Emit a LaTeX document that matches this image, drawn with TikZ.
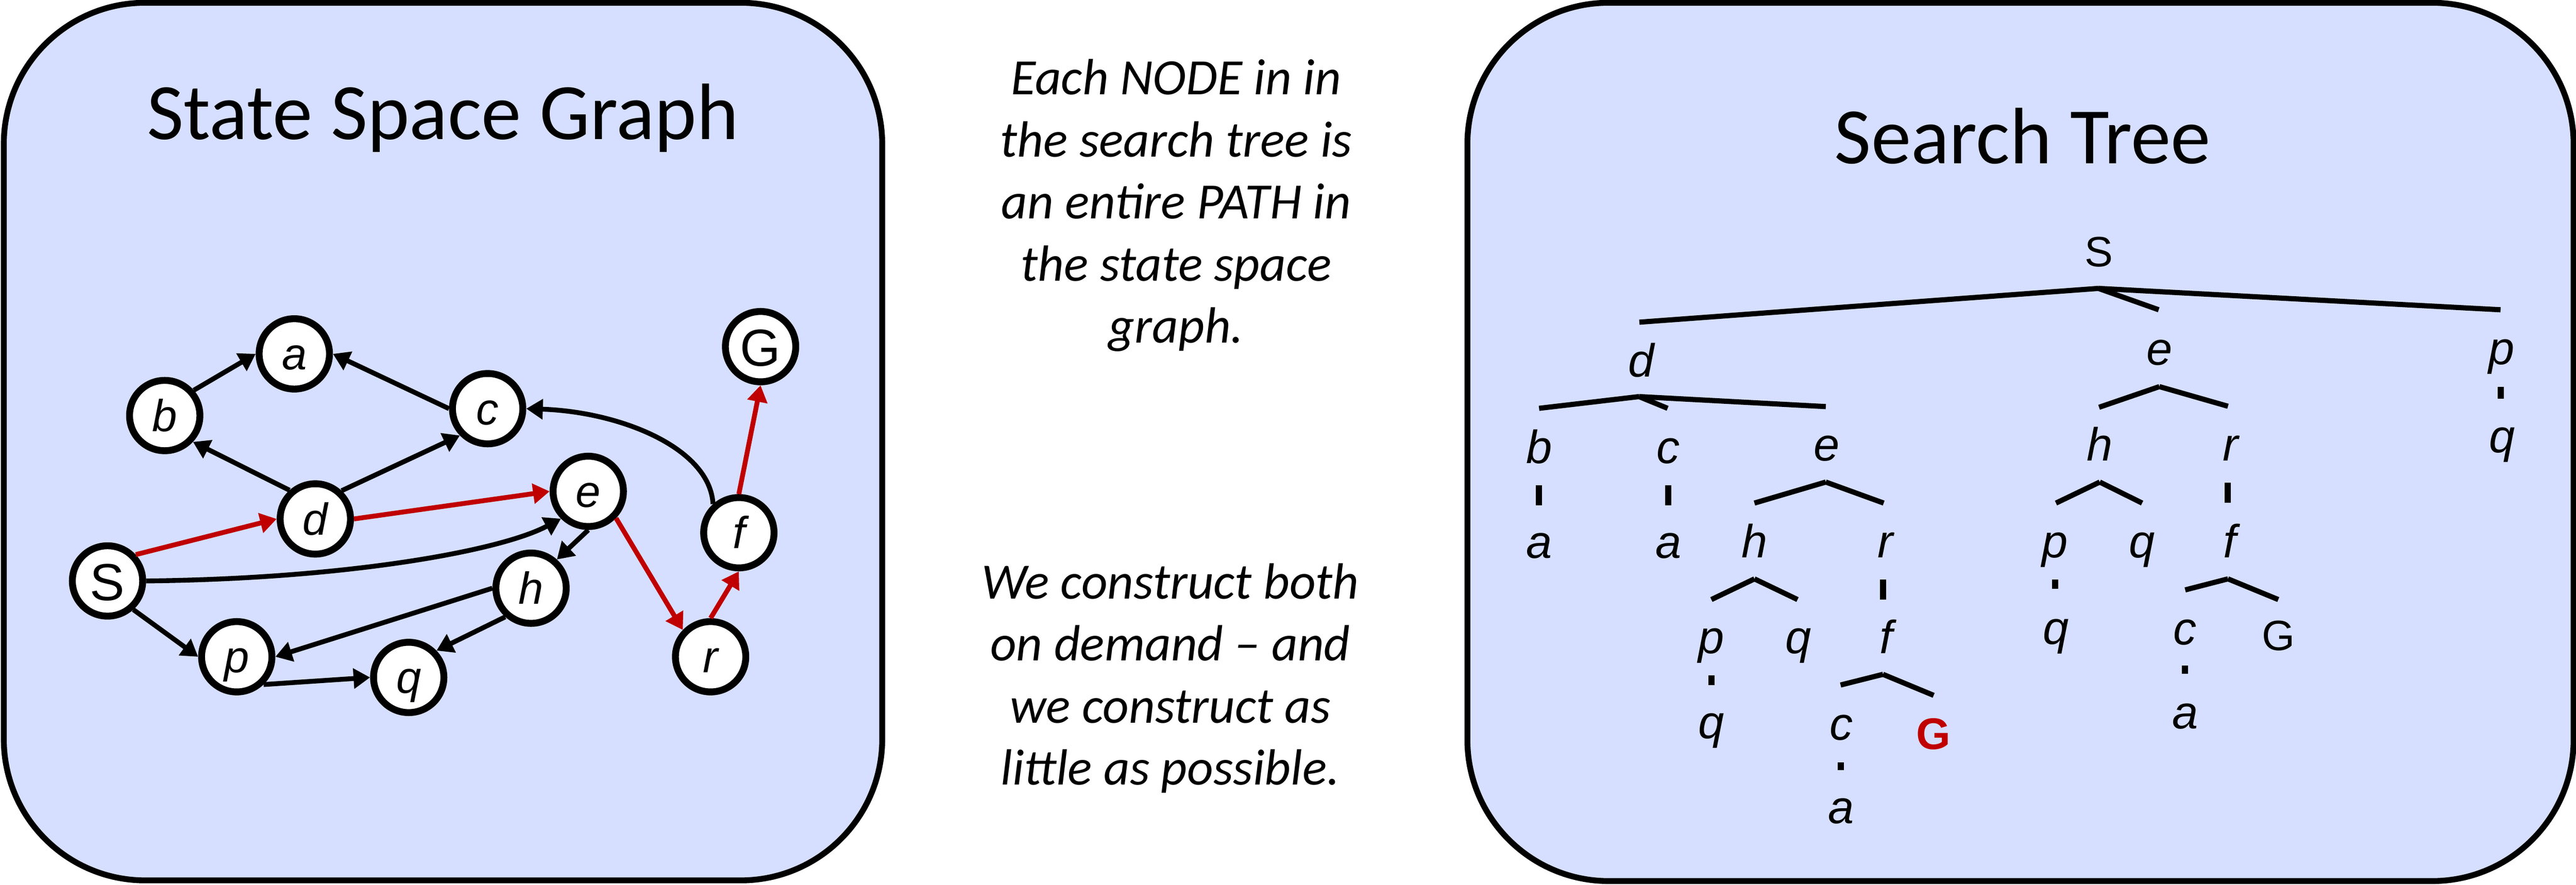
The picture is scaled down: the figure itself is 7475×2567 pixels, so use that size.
\documentclass[tikz,border=0pt]{standalone}
\usepackage{fontspec}
\setmainfont{Carlito}
\newfontfamily\arialf{Liberation Sans}
\usetikzlibrary{arrows.meta}
\definecolor{boxblue}{RGB}{214,223,255}
\definecolor{pathred}{RGB}{192,0,0}
\tikzset{
  panel/.style={draw=black, line width=0.17cm, fill=boxblue, rounded corners=4.1cm},
  title/.style={anchor=base, inner sep=0pt, font=\fontsize{66}{70}\selectfont},
  note/.style={anchor=base, inner sep=0pt, font=\itshape\fontsize{42}{51.2}\selectfont},
  gnode/.style={circle, draw=black, line width=0.2cm, fill=white, minimum size=2.04cm,
    inner sep=0pt, text height=0.92cm, text depth=0pt,
    font=\arialf\itshape\fontsize{37}{40}\selectfont},
  gbig/.style={gnode, text height=1.12cm, font=\arialf\fontsize{43}{46}\selectfont},
  garrow/.style={line width=0.14cm, -{Triangle[length=0.48cm,width=0.57cm]}},
  blk/.style={garrow, draw=black},
  hilite/.style={garrow, draw=pathred},
  tlab/.style={anchor=base, inner sep=0pt, font=\arialf\itshape\fontsize{38.4}{40}\selectfont},
  tup/.style={anchor=base, inner sep=0pt, font=\arialf\fontsize{35}{38}\selectfont},
  tgoal/.style={anchor=base, inner sep=0pt, text=pathred, font=\arialf\bfseries\fontsize{36.5}{40}\selectfont},
  tedge/.style={line width=0.15cm},
  tstub/.style={line width=0.18cm}
}
\begin{document}
\begin{tikzpicture}[x=0.01cm, y=-0.01cm]
\useasboundingbox (0,0) rectangle (7475,2567);

% panels
\draw[panel] (11,8) rectangle (2560,2555);
\draw[panel] (4258,8) rectangle (7468,2557);

% titles
\node[title] (ttl1) at (1285,404) {State Space Graph};
\node[title] (ttl2) at (5869,475) {Search Tree};

% middle notes
\node[note] (note1) at (3413,275) {\begin{tabular}[t]{@{}c@{}}Each NODE in in\\ the search tree is\\ an entire PATH in\\ the state space\\ graph.\end{tabular}};
\node[note] (note2) at (3396,1738) {\begin{tabular}[t]{@{}c@{}}We construct both\\ on demand -- and\\ we construct as\\ little as possible.\end{tabular}};

% ---------------- state space graph
\node[gnode] (a) at (854,1027) {a};
\node[gnode] (b) at (478,1206) {b};
\node[gnode] (c) at (1415,1186) {c};
\node[gnode] (d) at (915,1506) {d};
\node[gnode] (e) at (1707,1426) {e};
\node[gbig]  (S) at (312,1686) {S};
\node[gnode] (h) at (1541,1707) {h};
\node[gnode] (p) at (687,1906) {p};
\node[gnode] (q) at (1186,1966) {q};
\node[gnode] (r) at (2062,1906) {r};
\node[gnode] (f) at (2144,1546) {f};
\node[gbig]  (G) at (2207,1006) {G};

\draw[blk] (b.41) -- (a.west);
\draw[blk] (c.west) -- (a.east);
\draw[blk] (d.132) -- (b.-43);
\draw[blk] (d.47) -- (c.224);
\draw[blk] (S.east) .. controls (1000,1680) and (1450,1600) .. (e.225);
\draw[blk] (f.132) .. controls (2060,1300) and (1800,1195) .. (c.east);
\draw[blk] (e.south) -- (h.48);
\draw[blk] (h.west) -- (p.east);
\draw[blk] (h.228) -- (q.44);
\draw[blk] (S.-48) -- (p.west);
\draw[blk] (p.-46) -- (q.west);
\draw[hilite] (S.43) -- (d.west);
\draw[hilite] (d.east) -- (e.west);
\draw[hilite] (e.-44) -- (r.136);
\draw[hilite] (r.north) -- (f.south);
\draw[hilite] (f.north) -- (G.south);

% ---------------- search tree labels
\node[tup]  (t0) at (6091,773) {S};
\node[tlab] (t1) at (4762,1093) {d};
\node[tlab] (t2) at (6266,1059) {e};
\node[tlab] (t3) at (7259,1058) {p};
\node[tlab] (t11) at (4466,1345) {b};
\node[tlab] (t12) at (4841,1345) {c};
\node[tlab] (t13) at (5300,1337) {e};
\node[tlab] (t21) at (6093,1337) {h};
\node[tlab] (t22) at (6473,1337) {r};
\node[tlab] (t31) at (7261,1313) {q};
\node[tlab] (t111) at (4466,1620) {a};
\node[tlab] (t121) at (4841,1620) {a};
\node[tlab] (t131) at (5091,1618) {h};
\node[tlab] (t132) at (5471,1618) {r};
\node[tlab] (t211) at (5963,1618) {p};
\node[tlab] (t212) at (6216,1618) {q};
\node[tlab] (t221) at (6471,1618) {f};
\node[tlab] (t1311) at (4966,1897) {p};
\node[tlab] (t1312) at (5218,1897) {q};
\node[tlab] (t1321) at (5473,1897) {f};
\node[tlab] (t2111) at (5966,1869) {q};
\node[tlab] (t2211) at (6341,1871) {c};
\node[tup]  (t2212) at (6611,1888) {G};
\node[tlab] (t13111) at (4966,2143) {q};
\node[tlab] (t13211) at (5343,2148) {c};
\node[tgoal] (t13212) at (5611,2175) {G};
\node[tlab] (t22111) at (6341,2115) {a};
\node[tlab] (t132111) at (5342,2390) {a};

% ---------------- search tree edges
\coordinate (sA) at (6089,837);
\coordinate (sL) at (4757,935);
\coordinate (sR) at (7256,899);
\coordinate (sM) at (6264,899);
\draw[tedge] (sA) -- (sL);
\draw[tedge] (sA) -- (sR);
\draw[tedge] (sA) -- (sM);

\coordinate (dA) at (4756,1151);
\coordinate (dL) at (4466,1185);
\coordinate (dR) at (5298,1180);
\coordinate (dM) at (4839,1185);
\draw[tedge] (dA) -- (dL);
\draw[tedge] (dA) -- (dR);
\draw[tedge] (dA) -- (dM);

\coordinate (e1A) at (5298,1399);
\coordinate (e1L) at (5091,1460);
\coordinate (e1R) at (5466,1460);
\draw[tedge] (e1A) -- (e1L);
\draw[tedge] (e1A) -- (e1R);

\coordinate (h1A) at (5091,1680);
\coordinate (h1L) at (4966,1740);
\coordinate (h1R) at (5216,1740);
\draw[tedge] (h1A) -- (h1L);
\draw[tedge] (h1A) -- (h1R);

\coordinate (f1A) at (5464,1957);
\coordinate (f1L) at (5341,1988);
\coordinate (f1R) at (5611,2018);
\draw[tedge] (f1A) -- (f1L);
\draw[tedge] (f1A) -- (f1R);

\coordinate (e2A) at (6266,1122);
\coordinate (e2L) at (6091,1182);
\coordinate (e2R) at (6465,1179);
\draw[tedge] (e2A) -- (e2L);
\draw[tedge] (e2A) -- (e2R);

\coordinate (h2A) at (6093,1399);
\coordinate (h2L) at (5966,1460);
\coordinate (h2R) at (6216,1460);
\draw[tedge] (h2A) -- (h2L);
\draw[tedge] (h2A) -- (h2R);

\coordinate (f2A) at (6465,1680);
\coordinate (f2L) at (6341,1712);
\coordinate (f2R) at (6611,1740);
\draw[tedge] (f2A) -- (f2L);
\draw[tedge] (f2A) -- (f2R);

% single-child stubs
\draw[tstub] (4466,1408) -- (4466,1467);
\draw[tstub] (4841,1408) -- (4841,1467);
\draw[tstub] (5464,1682) -- (5464,1740);
\draw[tstub] (4966,1960) -- (4966,1989);
\draw[tstub] (5342,2213) -- (5342,2235);
\draw[tstub] (6464,1401) -- (6464,1459);
\draw[tstub] (5964,1682) -- (5964,1709);
\draw[tstub] (6340,1932) -- (6340,1955);
\draw[tstub] (7257,1122) -- (7257,1157);
\end{tikzpicture}
\end{document}
